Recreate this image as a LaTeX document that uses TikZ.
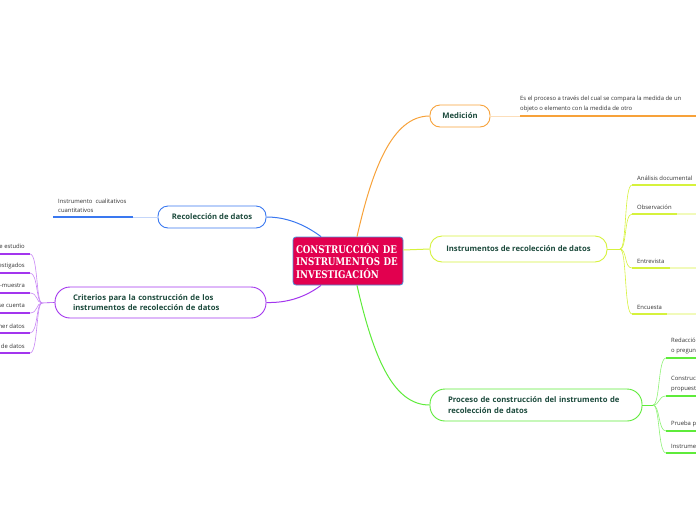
\documentclass[tikz,border=0pt]{standalone}
\usepackage{fontspec}
\setmainfont{Open Sans}
\newfontfamily\titlefont[FakeStretch=0.82]{DejaVu Serif}
\usetikzlibrary{positioning}

\definecolor{coreRed}{HTML}{E2004F}
\definecolor{coreRim}{HTML}{4A90D9}
\definecolor{medOrange}{HTML}{F7A23A}
\definecolor{insYellow}{HTML}{D6F23C}
\definecolor{proGreen}{HTML}{5EEB3A}
\definecolor{recBlue}{HTML}{3A78F0}
\definecolor{criPurple}{HTML}{A335EE}
\definecolor{nodeText}{HTML}{1C4A3C}
\definecolor{leafText}{HTML}{333333}

\begin{document}
\begin{tikzpicture}[x=1pt,y=-1pt,
  core/.style={draw=coreRim, fill=coreRed, line width=0.8pt, rounded corners=3pt,
    text=white, font=\titlefont\bfseries\fontsize{10.6}{12.5}\selectfont,
    align=left, text width=104pt, inner xsep=3pt, minimum height=48pt},
  topic/.style={draw, line width=0.9pt, fill=white, text=nodeText,
    font=\bfseries\fontsize{7.7}{10.5}\selectfont, inner sep=0pt},
  leaf/.style={font=\fontsize{5.9}{9.5}\selectfont, text=leafText, inner sep=0pt},
  twig/.style={line width=0.6pt},
  stem/.style={line width=1.6pt}]
\useasboundingbox (0,0) rectangle (696,520);
\clip (0,0) rectangle (696,520);

% main topics
\node[core] (core) at (348,261) {CONSTRUCCIÓN DE\\INSTRUMENTOS DE\\INVESTIGACIÓN};
\node[topic, draw=medOrange, rounded corners=10pt, minimum width=60pt, minimum height=22pt] (med) at (460,116) {Medición};
\node[topic, draw=insYellow, rounded corners=12pt, minimum width=177pt, minimum height=26pt] (ins) at (518.5,249) {Instrumentos de recolección de datos};
\node[topic, draw=proGreen, rounded corners=15pt, align=left, text width=176pt, inner xsep=18pt, minimum height=32pt] (pro) at (536,405) {Proceso de construcción del instrumento de\\recolección de datos};
\node[topic, draw=recBlue, rounded corners=10pt, minimum width=108pt, minimum height=22pt] (rec) at (212,217) {Recolección de datos};
\node[topic, draw=criPurple, rounded corners=15pt, align=left, text width=175pt, inner xsep=18pt, minimum height=31pt] (cri) at (160.5,302.5) {Criterios para la construcción de los\\instrumentos de recolección de datos};

\draw[medOrange, line width=1pt] ([xshift=9pt]core.north) .. controls (372,170) and (392,116) .. (med.west);
\draw[insYellow, line width=1pt] ([yshift=11pt]core.east) -- (ins.west);
\draw[proGreen, line width=1pt] ([xshift=9pt]core.south) .. controls (374,360) and (394,405) .. (pro.west);
\draw[recBlue, line width=1pt] ([xshift=-27pt]core.north) .. controls (304,224) and (286,217) .. (rec.east);
\draw[criPurple, line width=1pt] ([xshift=-27pt]core.south) .. controls (304,298) and (286,303) .. (cri.east);

% Medición
\node[leaf, anchor=south west, align=left] (medNote) at (520,112) {Es el proceso a través del cual se compara la medida de un\\objeto o elemento con la medida de otro};
\coordinate (medTip) at (520,116);
\draw[medOrange!35, twig] (med.east) -- (medTip);
\draw[medOrange, stem] (medTip) -- (700,116);

% Instrumentos
\coordinate (insFork) at (620,249);
\draw[insYellow, twig] (ins.east) -- (insFork);
\foreach \i/\y/\e/\t in {1/185/700/Análisis documental, 2/214/677/Observación, 3/268/670/Entrevista, 4/314/667/Encuesta}{
  \draw[insYellow, twig] (insFork) .. controls (627,249) and (624,\y) .. (632,\y) -- (700,\y);
  \draw[insYellow, stem] (632,\y) -- (\e,\y);
  \node[leaf, anchor=south west] (ins\i) at (637,\y-4) {\t};
}

% Proceso
\coordinate (proFork) at (653,405);
\draw[proGreen, twig] (pro.east) -- (proFork);
\foreach \i/\y/\t in {1/358/{Redacción\\o preguntas}, 2/396/{Construcción\\propuesta}, 3/431/{Prueba piloto}, 4/453/{Instrumento}}{
  \draw[proGreen!70, twig] (proFork) .. controls (660,405) and (658,\y) .. (666,\y);
  \draw[proGreen, stem] (666,\y) -- (700,\y);
  \node[leaf, anchor=south west, align=left] (pro\i) at (671,\y-4) {\t};
}

% Recolección
\node[leaf, anchor=south west, align=left] (recNote) at (58,213) {Instrumento\ \ cualitativos\\cuantitativos};
\coordinate (recTip) at (133,217);
\draw[recBlue!30, twig] (rec.west) -- (recTip);
\draw[recBlue, stem] (recTip) -- (53,217);

% Criterios
\coordinate (criFork) at (42,303);
\draw[criPurple, twig] (cri.west) -- (criFork);
\foreach \i/\y/\t in {1/254/objeto de estudio, 2/273/sujetos investigados, 3/293/población-muestra, 4/313/recursos con que se cuenta, 5/333/obtener datos, 6/353/técnica de recolección de datos}{
  \draw[criPurple!60, twig] (criFork) .. controls (36,303) and (38,\y) .. (30,\y);
  \draw[criPurple, stem] (30,\y) -- (-5,\y);
  \node[leaf, anchor=south east] (cri\i) at (25,\y-4) {\t};
}
\end{tikzpicture}
\end{document}
